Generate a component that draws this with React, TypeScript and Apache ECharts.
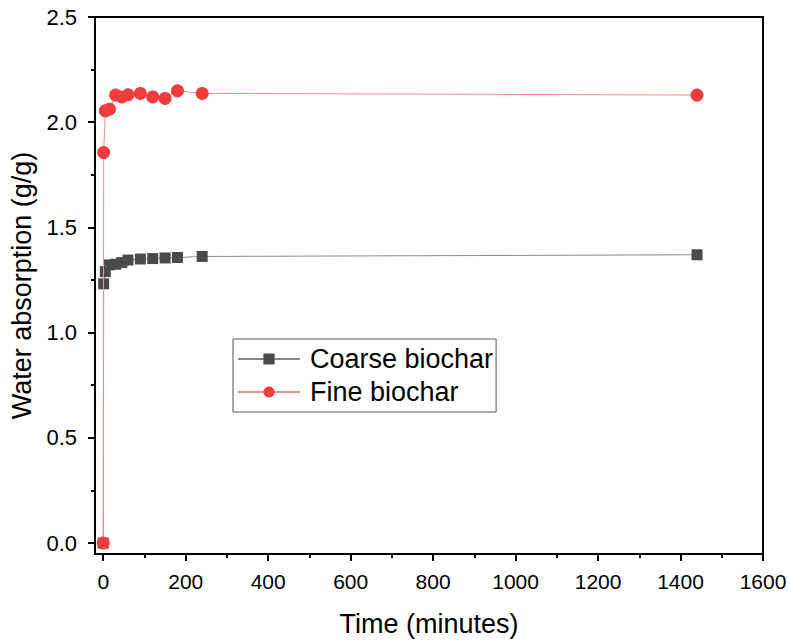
import React, { useEffect, useRef } from "react";
import * as echarts from "echarts";

const times = [0, 1, 5, 15, 30, 45, 60, 90, 120, 150, 180, 240, 1440];
const coarse = [0, 1.232, 1.29, 1.322, 1.325, 1.333, 1.345, 1.35, 1.352, 1.355, 1.357, 1.362, 1.37];
const fine = [0, 1.856, 2.054, 2.062, 2.129, 2.12, 2.13, 2.137, 2.12, 2.113, 2.149, 2.137, 2.129];
const xMajor = [0, 200, 400, 600, 800, 1000, 1200, 1400, 1600];
const xMinor = [100, 300, 500, 700, 900, 1100, 1300, 1500];
const yMajor = [0, 0.5, 1.0, 1.5, 2.0, 2.5];
const yMinor = [0.25, 0.75, 1.25, 1.75, 2.25];

const FONT = "Liberation Sans, Arial, sans-serif";

export default function App() {
  const ref = useRef<HTMLDivElement>(null);
  useEffect(() => {
    const chart = echarts.init(ref.current!, null, { renderer: "svg" });
    const axisLineStyle = { color: "#000", width: 2 };
    const xBase = { type: "value", min: -20, max: 1600, position: "bottom", splitLine: { show: false } };
    const yBase = { type: "value", min: -0.052, max: 2.5, position: "left", splitLine: { show: false } };
    chart.setOption({
      animation: false,
      backgroundColor: "#fff",
      grid: { left: 95, right: 27, top: 17, bottom: 88, show: true, borderColor: "#000", borderWidth: 2, backgroundColor: "transparent" },
      legend: {
        orient: "vertical",
        left: 233,
        top: 339,
        padding: [5, 3, 5, 4],
        itemWidth: 62,
        itemHeight: 14,
        itemGap: 3,
        borderColor: "#555",
        borderWidth: 1,
        textStyle: { fontFamily: FONT, fontSize: 27, lineHeight: 30, color: "#000", padding: [0, 0, 0, 5] },
        data: ["Coarse biochar", "Fine biochar"],
      },
      xAxis: [
        {
          ...xBase,
          name: "Time (minutes)",
          nameLocation: "middle",
          nameGap: 56,
          nameTextStyle: { fontFamily: FONT, fontSize: 27, color: "#000" },
          axisLine: { show: true, onZero: false, lineStyle: axisLineStyle },
          axisTick: { show: true, customValues: xMajor, length: 7, lineStyle: { color: "#000", width: 2 } },
          axisLabel: {
            customValues: xMajor,
            fontFamily: FONT,
            fontSize: 21,
            color: "#000",
            margin: 17,
            formatter: (v: number) => String(v),
          },
        },
        {
          ...xBase,
          axisLine: { show: false, onZero: false },
          axisTick: { show: true, customValues: xMinor, length: 4, lineStyle: { color: "#000", width: 2 } },
          axisLabel: { show: false },
        },
      ],
      yAxis: [
        {
          ...yBase,
          name: "Water absorption (g/g)",
          nameLocation: "middle",
          nameGap: 53,
          nameTextStyle: { fontFamily: FONT, fontSize: 27, color: "#000" },
          axisLine: { show: true, onZero: false, lineStyle: axisLineStyle },
          axisTick: { show: true, customValues: yMajor, length: 7, lineStyle: { color: "#000", width: 2 } },
          axisLabel: {
            customValues: yMajor,
            fontFamily: FONT,
            fontSize: 22,
            color: "#000",
            margin: 18,
            formatter: (v: number) => v.toFixed(1),
          },
        },
        {
          ...yBase,
          axisLine: { show: false, onZero: false },
          axisTick: { show: true, customValues: yMinor, length: 4, lineStyle: { color: "#000", width: 2 } },
          axisLabel: { show: false },
        },
      ],
      series: [
        {
          name: "Coarse biochar",
          type: "line",
          xAxisIndex: 0,
          yAxisIndex: 0,
          data: times.map((t, i) => [t, coarse[i]]),
          symbol: "rect",
          symbolSize: 11,
          itemStyle: { color: "#4a4a4a" },
          lineStyle: { color: "#8a8a8a", width: 1 },
          z: 2,
        },
        {
          name: "Fine biochar",
          type: "line",
          xAxisIndex: 0,
          yAxisIndex: 0,
          data: times.map((t, i) => [t, fine[i]]),
          symbol: "circle",
          symbolSize: 13,
          itemStyle: { color: "#ef3d3d" },
          lineStyle: { color: "#f48f8f", width: 1 },
          z: 3,
        },
      ],
    });
    return () => chart.dispose();
  }, []);
  return <div ref={ref} style={{ width: 790, height: 642, position: "absolute", left: 0, top: 0 }} />;
}
